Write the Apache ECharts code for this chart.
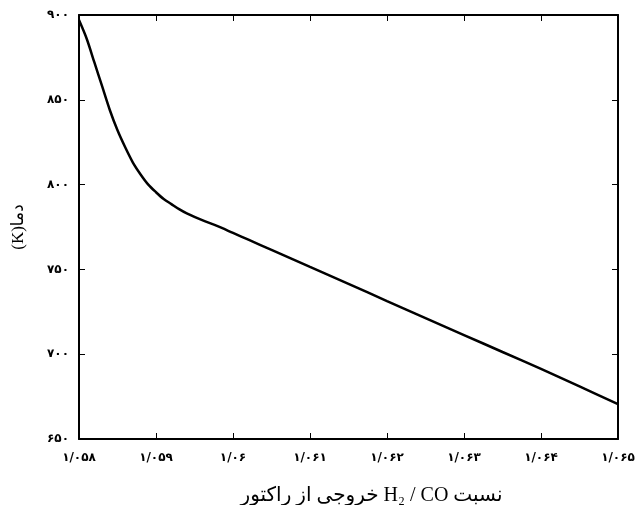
<!DOCTYPE html>
<html>
<head>
<meta charset="utf-8">
<script src="https://cdn.jsdelivr.net/npm/echarts@6/dist/echarts.min.js"></script>
<style>
html,body{margin:0;padding:0;background:#fff;}
#main{width:636px;height:505px;}
</style>
</head>
<body>
<div id="main" dir="rtl"></div>
<script>
// H2/CO ratio at reactor outlet and temperature (K)
var ratio = [1.0580, 1.0581, 1.0582, 1.0583, 1.0584, 1.0585, 1.0586, 1.0587, 1.0588, 1.0589,
             1.0590, 1.0591, 1.0592, 1.0593, 1.0594, 1.0596, 1.0598, 1.0600, 1.0602, 1.0605,
             1.0610, 1.0615, 1.0620, 1.0625, 1.0630, 1.0635, 1.0640, 1.0645, 1.0650];
var temp = [897, 886, 872, 858, 844, 832, 822, 813, 806, 800,
            795.5, 791.5, 788.5, 785.5, 783, 779, 775.5, 771.5, 767.5, 761.5,
            751.5, 741.5, 731.3, 721.3, 711.3, 701.3, 691.3, 681, 670.6];
var xTicks = [1.058, 1.059, 1.060, 1.061, 1.062, 1.063, 1.064, 1.065];
var yTicks = [650, 700, 750, 800, 850, 900];

var faDigits = "۰۱۲۳۴۵۶۷۸۹";
function toFa(s){
    return String(s).replace(/[0-9]/g, function(d){ return faDigits[+d]; }).replace(".", "/");
}
function xLabel(v){
    return toFa((+v.toFixed(3)).toString());
}

var data = [];
for (var i = 0; i < ratio.length; i++) data.push([ratio[i], temp[i]]);

var chart = echarts.init(document.getElementById("main"));
var axisLine = {show: true, lineStyle: {color: "#000", width: 2}};
var tick = {show: true, inside: true, length: 6, lineStyle: {color: "#000"}};
var option = {
    animation: false,
    backgroundColor: "#fff",
    grid: {left: 79, right: 18, top: 15, bottom: 66, outerBoundsMode: "none", containLabel: false},
    xAxis: [
        {
            type: "value",
            min: xTicks[0], max: xTicks[xTicks.length - 1], interval: 0.001,
            axisLine: axisLine,
            axisTick: tick,
            splitLine: {show: false},
            axisLabel: {
                color: "#000", fontSize: 12, fontWeight: "bold", margin: 13,
                fontFamily: "DejaVu Sans",
                formatter: xLabel
            },
            name: "نسبت H₂ / CO خروجی از راکتور",
            nameLocation: "middle",
            nameGap: 47,
            nameTextStyle: {color: "#000", fontSize: 20, fontFamily: "Liberation Serif, DejaVu Sans",
                            padding: [0, 0, 0, 46]}
        },
        {
            type: "value", position: "top",
            min: xTicks[0], max: xTicks[xTicks.length - 1], interval: 0.001,
            axisLine: axisLine,
            axisTick: tick,
            axisLabel: {show: false},
            splitLine: {show: false}
        }
    ],
    yAxis: [
        {
            type: "value",
            min: yTicks[0], max: yTicks[yTicks.length - 1], interval: 50,
            axisLine: axisLine,
            axisTick: tick,
            splitLine: {show: false},
            axisLabel: {
                color: "#000", fontSize: 12, fontWeight: "bold", margin: 10,
                fontFamily: "DejaVu Sans",
                formatter: function(v){ return toFa(v); }
            },
            name: "دما(K)",
            nameLocation: "middle",
            nameGap: 52,
            nameRotate: 90,
            nameTextStyle: {color: "#000", fontSize: 17, fontFamily: "Liberation Serif, DejaVu Sans"}
        },
        {
            type: "value", position: "right",
            min: yTicks[0], max: yTicks[yTicks.length - 1], interval: 50,
            axisLine: axisLine,
            axisTick: tick,
            axisLabel: {show: false},
            splitLine: {show: false}
        }
    ],
    series: [
        {
            type: "line",
            data: data,
            smooth: 0.3,
            showSymbol: false,
            lineStyle: {color: "#000", width: 2.5}
        }
    ]
};
chart.setOption(option);
</script>
</body>
</html>
